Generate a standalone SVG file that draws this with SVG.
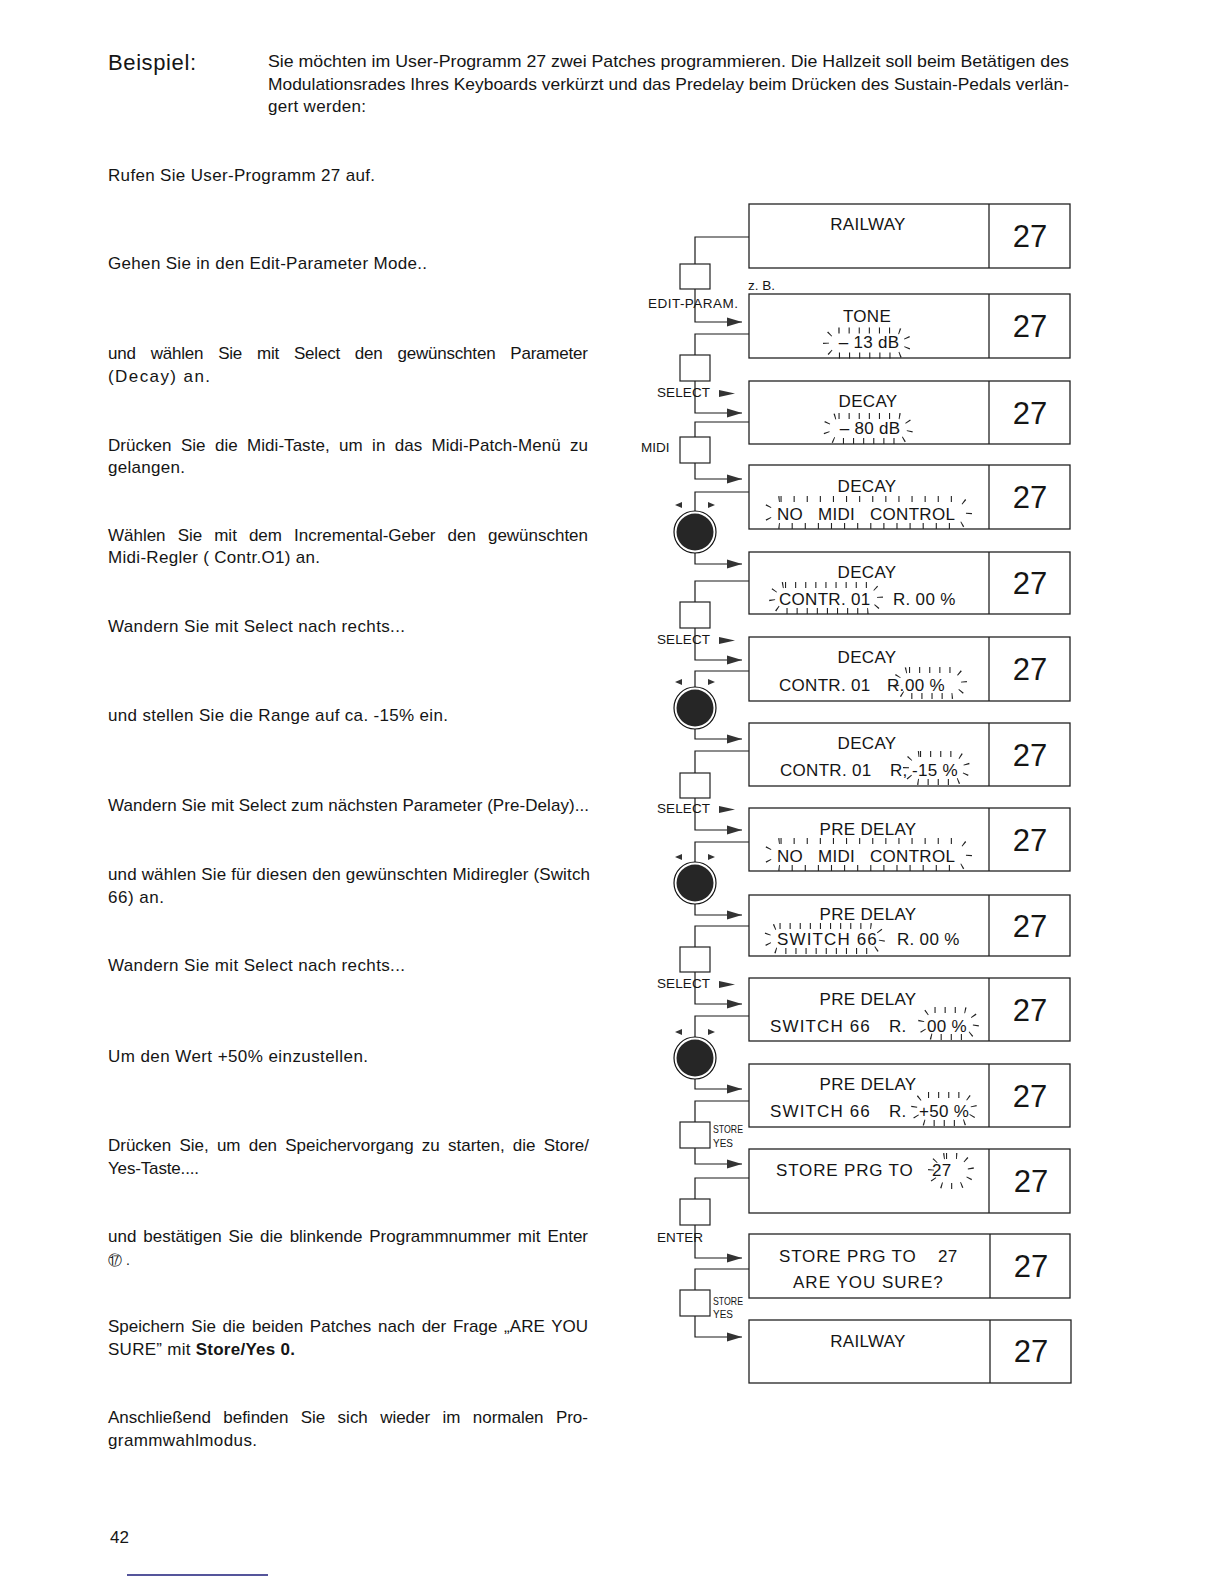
<svg xmlns="http://www.w3.org/2000/svg" width="1224" height="1584" viewBox="0 0 1224 1584">
<style>
text{font-family:"Liberation Sans",Arial,"DejaVu Sans",sans-serif;fill:#151515}
.body{font-size:17px}
.hdr{font-size:17px}
.big{font-size:22px}
.lcd{font-size:17px;letter-spacing:0.3px}
.num{font-size:31px;text-anchor:middle}
.mid{text-anchor:middle}
.lbl{font-size:13.5px}
.small{font-size:11px}
.box{fill:#fff;stroke:#222;stroke-width:1.3}
.div{stroke:#222;stroke-width:1.3}
.btn{fill:#fff;stroke:#222;stroke-width:1.2}
.wire{fill:none;stroke:#1a1a1a;stroke-width:1.2}
.tri{fill:#333}
.kring{fill:#fff;stroke:#111;stroke-width:1.2}
.kfill{fill:#262626}
.ray{fill:none;stroke:#222;stroke-width:6;stroke-dasharray:1.1 9}
.rayw{stroke-dasharray:1.1 12}
</style>
<defs>
<marker id="ah" viewBox="0 0 15 10" refX="15" refY="5" markerWidth="15" markerHeight="10" markerUnits="userSpaceOnUse" orient="auto">
<path d="M0,0.5 L15,5 L0,9.5 Z" fill="#333"/>
</marker>
</defs>
<rect width="1224" height="1584" fill="#fff"/>

<g id="header">
<text class="big" x="108" y="70" textLength="88">Beispiel:</text>
<text class="hdr" x="268" y="67" textLength="801" lengthAdjust="spacingAndGlyphs">Sie möchten im User-Programm 27 zwei Patches programmieren. Die Hallzeit soll beim Betätigen des</text>
<text class="hdr" x="268" y="90" textLength="801" lengthAdjust="spacingAndGlyphs">Modulationsrades Ihres Keyboards verkürzt und das Predelay beim Drücken des Sustain-Pedals verlän-</text>
<text class="hdr" x="268" y="112" textLength="98">gert werden:</text>
</g>

<g id="instructions">
<text class="body" x="108" y="181" textLength="267">Rufen Sie User-Programm 27 auf.</text>
<text class="body" x="108" y="269" textLength="319">Gehen Sie in den Edit-Parameter Mode..</text>
<text class="body" x="108" y="359" word-spacing="10.4" textLength="480">und wählen Sie mit Select den gewünschten Parameter</text>
<text class="body" x="108" y="382" textLength="102">(Decay) an.</text>
<text class="body" x="108" y="451" word-spacing="4.6" textLength="480">Drücken Sie die Midi-Taste, um in das Midi-Patch-Menü zu</text>
<text class="body" x="108" y="473" textLength="77">gelangen.</text>
<text class="body" x="108" y="541" word-spacing="7.4" textLength="480">Wählen Sie mit dem Incremental-Geber den gewünschten</text>
<text class="body" x="108" y="563" textLength="212">Midi-Regler ( Contr.O1) an.</text>
<text class="body" x="108" y="632" textLength="297">Wandern Sie mit Select nach rechts...</text>
<text class="body" x="108" y="721" textLength="340">und stellen Sie die Range auf ca. -15% ein.</text>
<text class="body" x="108" y="811" textLength="481">Wandern Sie mit Select zum nächsten Parameter (Pre-Delay)...</text>
<text class="body" x="108" y="880" textLength="482">und wählen Sie für diesen den gewünschten Midiregler (Switch</text>
<text class="body" x="108" y="903" textLength="56">66) an.</text>
<text class="body" x="108" y="971" textLength="297">Wandern Sie mit Select nach rechts...</text>
<text class="body" x="108" y="1062" textLength="260">Um den Wert +50% einzustellen.</text>
<text class="body" x="108" y="1151" word-spacing="3.5" textLength="481">Drücken Sie, um den Speichervorgang zu starten, die Store/</text>
<text class="body" x="108" y="1174" textLength="91">Yes-Taste....</text>
<text class="body" x="108" y="1242" word-spacing="2.2" textLength="480">und bestätigen Sie die blinkende Programmnummer mit Enter</text>
<text x="108" y="1265" style="font-size:14px">⑰ .</text>
<text class="body" x="108" y="1332" word-spacing="2" textLength="480">Speichern Sie die beiden Patches nach der Frage „ARE YOU</text>
<text class="body" x="108" y="1355" textLength="187">SURE” mit <tspan font-weight="bold">Store/Yes 0.</tspan></text>
<text class="body" x="108" y="1423" word-spacing="7.6" textLength="480">Anschließend befinden Sie sich wieder im normalen Pro-</text>
<text class="body" x="108" y="1446" textLength="149">grammwahlmodus.</text>
<text class="body" x="110" y="1543">42</text>
</g>
<line x1="127" y1="1575" x2="268" y2="1575" stroke="#1c1c7a" stroke-width="1.5"/>

<g id="connectors">
<path class="wire" d="M749,237 H695 V264"/>
<path class="wire" d="M695,289 V322 H742" marker-end="url(#ah)"/>
<path class="wire" d="M749,334 H695 V355"/>
<path class="wire" d="M695,381 V413 H742" marker-end="url(#ah)"/>
<path class="wire" d="M749,422 H695 V437"/>
<path class="wire" d="M695,463 V479 H742" marker-end="url(#ah)"/>
<path class="wire" d="M749,492 H695 V511"/>
<path class="wire" d="M695,553 V564 H742" marker-end="url(#ah)"/>
<path class="wire" d="M749,581 H695 V602"/>
<path class="wire" d="M695,628 V660 H742" marker-end="url(#ah)"/>
<path class="wire" d="M749,671 H695 V687"/>
<path class="wire" d="M695,729 V739 H742" marker-end="url(#ah)"/>
<path class="wire" d="M749,751 H695 V773"/>
<path class="wire" d="M695,798 V830 H742" marker-end="url(#ah)"/>
<path class="wire" d="M749,842 H695 V862"/>
<path class="wire" d="M695,904 V915 H742" marker-end="url(#ah)"/>
<path class="wire" d="M749,926 H695 V947"/>
<path class="wire" d="M695,972 V1004 H742" marker-end="url(#ah)"/>
<path class="wire" d="M749,1016 H695 V1037"/>
<path class="wire" d="M695,1079 V1089 H742" marker-end="url(#ah)"/>
<path class="wire" d="M749,1101 H695 V1122"/>
<path class="wire" d="M695,1148 V1164 H742" marker-end="url(#ah)"/>
<path class="wire" d="M749,1178 H695 V1199"/>
<path class="wire" d="M695,1225 V1258 H742" marker-end="url(#ah)"/>
<path class="wire" d="M749,1269 H695 V1290"/>
<path class="wire" d="M695,1316 V1337 H742" marker-end="url(#ah)"/>
</g>

<g id="btn-edit">
<rect class="btn" x="680" y="264" width="30" height="25"/>
<text class="lbl" x="648" y="308" textLength="90">EDIT-PARAM.</text>
<text class="lbl" x="748" y="290">z. B.</text>
</g>
<g id="btn-select-1">
<rect class="btn" x="680" y="355" width="30" height="26"/>
<text class="lbl" x="657" y="397" textLength="53">SELECT</text>
<polygon class="tri" points="719,390 735,393.5 719,397"/>
</g>
<g id="btn-midi">
<rect class="btn" x="680" y="437" width="30" height="26"/>
<text class="lbl" x="641" y="452">MIDI</text>
</g>
<g id="knob-1">
<polygon class="tri" points="675,505 682,502 682,508"/>
<polygon class="tri" points="715,505 708,502 708,508"/>
<circle class="kring" cx="695" cy="532" r="21"/>
<circle class="kfill" cx="695" cy="532" r="18.5"/>
</g>
<g id="btn-select-2">
<rect class="btn" x="680" y="602" width="30" height="26"/>
<text class="lbl" x="657" y="644" textLength="53">SELECT</text>
<polygon class="tri" points="719,637 735,640.5 719,644"/>
</g>
<g id="knob-2">
<polygon class="tri" points="675,682 682,679 682,685"/>
<polygon class="tri" points="715,682 708,679 708,685"/>
<circle class="kring" cx="695" cy="708" r="21"/>
<circle class="kfill" cx="695" cy="708" r="18.5"/>
</g>
<g id="btn-select-3">
<rect class="btn" x="680" y="773" width="30" height="25"/>
<text class="lbl" x="657" y="813" textLength="53">SELECT</text>
<polygon class="tri" points="719,806 735,809.5 719,813"/>
</g>
<g id="knob-3">
<polygon class="tri" points="675,857 682,854 682,860"/>
<polygon class="tri" points="715,857 708,854 708,860"/>
<circle class="kring" cx="695" cy="883" r="21"/>
<circle class="kfill" cx="695" cy="883" r="18.5"/>
</g>
<g id="btn-select-4">
<rect class="btn" x="680" y="947" width="30" height="25"/>
<text class="lbl" x="657" y="988" textLength="53">SELECT</text>
<polygon class="tri" points="719,981 735,984.5 719,988"/>
</g>
<g id="knob-4">
<polygon class="tri" points="675,1032 682,1029 682,1035"/>
<polygon class="tri" points="715,1032 708,1029 708,1035"/>
<circle class="kring" cx="695" cy="1058" r="21"/>
<circle class="kfill" cx="695" cy="1058" r="18.5"/>
</g>
<g id="btn-store-1">
<rect class="btn" x="680" y="1122" width="30" height="26"/>
<text class="small" x="713" y="1133" textLength="30" lengthAdjust="spacingAndGlyphs">STORE</text>
<text class="small" x="713" y="1147" textLength="20" lengthAdjust="spacingAndGlyphs">YES</text>
</g>
<g id="btn-enter">
<rect class="btn" x="680" y="1199" width="30" height="26"/>
<text class="lbl" x="657" y="1242" textLength="46">ENTER</text>
</g>
<g id="btn-store-2">
<rect class="btn" x="680" y="1290" width="30" height="26"/>
<text class="small" x="713" y="1305" textLength="30" lengthAdjust="spacingAndGlyphs">STORE</text>
<text class="small" x="713" y="1318" textLength="20" lengthAdjust="spacingAndGlyphs">YES</text>
</g>

<g id="display-1">
<rect class="box" x="749" y="204" width="321" height="64"/>
<line class="div" x1="989" y1="204" x2="989" y2="268"/>
<text class="lcd mid" x="868" y="230">RAILWAY</text>
<text class="num" x="1030" y="247">27</text>
</g>
<g id="display-2">
<rect class="box" x="749" y="294" width="321" height="64"/>
<line class="div" x1="989" y1="294" x2="989" y2="358"/>
<text class="lcd mid" x="867" y="322">TONE</text>
<text class="lcd mid" x="869" y="348">– 13 dB</text>
<rect class="ray" x="826" y="330.5" width="82" height="25" rx="12.5"/>
<text class="num" x="1030" y="337">27</text>
</g>
<g id="display-3">
<rect class="box" x="749" y="381" width="321" height="63"/>
<line class="div" x1="989" y1="381" x2="989" y2="444"/>
<text class="lcd mid" x="868" y="407">DECAY</text>
<text class="lcd mid" x="870" y="434">– 80 dB</text>
<rect class="ray" x="826" y="416" width="84" height="25" rx="12.5"/>
<text class="num" x="1030" y="424">27</text>
</g>
<g id="display-4">
<rect class="box" x="749" y="465" width="321" height="64"/>
<line class="div" x1="989" y1="465" x2="989" y2="529"/>
<text class="lcd mid" x="867" y="492">DECAY</text>
<text class="lcd" y="520"><tspan x="777">NO</tspan><tspan x="818">MIDI</tspan><tspan x="870">CONTROL</tspan></text>
<rect class="ray rayw" x="767" y="499" width="202" height="27" rx="13.5"/>
<text class="num" x="1030" y="508">27</text>
</g>
<g id="display-5">
<rect class="box" x="749" y="552" width="321" height="62"/>
<line class="div" x1="989" y1="552" x2="989" y2="614"/>
<text class="lcd mid" x="867" y="578">DECAY</text>
<text class="lcd" x="779" y="605">CONTR. 01</text>
<text class="lcd" x="893" y="605">R. 00 %</text>
<rect class="ray" x="772" y="585" width="108" height="26" rx="13"/>
<text class="num" x="1030" y="594">27</text>
</g>
<g id="display-6">
<rect class="box" x="749" y="637" width="321" height="64"/>
<line class="div" x1="989" y1="637" x2="989" y2="701"/>
<text class="lcd mid" x="867" y="663">DECAY</text>
<text class="lcd" x="779" y="691">CONTR. 01</text>
<text class="lcd" x="887" y="691">R.</text>
<text class="lcd" x="905" y="691">00 %</text>
<rect class="ray" x="896" y="670" width="68" height="26" rx="13"/>
<text class="num" x="1030" y="680">27</text>
</g>
<g id="display-7">
<rect class="box" x="749" y="723" width="321" height="63"/>
<line class="div" x1="989" y1="723" x2="989" y2="786"/>
<text class="lcd mid" x="867" y="749">DECAY</text>
<text class="lcd" x="780" y="776">CONTR. 01</text>
<text class="lcd" x="890" y="776">R,</text>
<text class="lcd" x="912" y="776">-15 %</text>
<rect class="ray" x="906" y="754" width="61" height="28" rx="14"/>
<text class="num" x="1030" y="766">27</text>
</g>
<g id="display-8">
<rect class="box" x="749" y="808" width="321" height="63"/>
<line class="div" x1="989" y1="808" x2="989" y2="871"/>
<text class="lcd mid" x="868" y="835">PRE DELAY</text>
<text class="lcd" y="862"><tspan x="777">NO</tspan><tspan x="818">MIDI</tspan><tspan x="870">CONTROL</tspan></text>
<rect class="ray rayw" x="767" y="841" width="202" height="27" rx="13.5"/>
<text class="num" x="1030" y="851">27</text>
</g>
<g id="display-9">
<rect class="box" x="749" y="895" width="321" height="61"/>
<line class="div" x1="989" y1="895" x2="989" y2="956"/>
<text class="lcd mid" x="868" y="920">PRE DELAY</text>
<text class="lcd" x="777" y="945" textLength="100">SWITCH 66</text>
<text class="lcd" x="897" y="945">R. 00 %</text>
<rect class="ray" x="767" y="926" width="115" height="25" rx="12.5"/>
<text class="num" x="1030" y="937">27</text>
</g>
<g id="display-10">
<rect class="box" x="749" y="978" width="321" height="63"/>
<line class="div" x1="989" y1="978" x2="989" y2="1041"/>
<text class="lcd mid" x="868" y="1005">PRE DELAY</text>
<text class="lcd" x="770" y="1032" textLength="100">SWITCH 66</text>
<text class="lcd" x="889" y="1032">R.</text>
<text class="lcd" x="927" y="1032">00 %</text>
<rect class="ray" x="921" y="1010" width="55" height="27" rx="13.5"/>
<text class="num" x="1030" y="1021">27</text>
</g>
<g id="display-11">
<rect class="box" x="749" y="1064" width="321" height="63"/>
<line class="div" x1="989" y1="1064" x2="989" y2="1127"/>
<text class="lcd mid" x="868" y="1090">PRE DELAY</text>
<text class="lcd" x="770" y="1117" textLength="100">SWITCH 66</text>
<text class="lcd" x="889" y="1117">R.</text>
<text class="lcd" x="919" y="1117">+50 %</text>
<rect class="ray" x="914" y="1095" width="60" height="28" rx="14"/>
<text class="num" x="1030" y="1107">27</text>
</g>
<g id="display-12">
<rect class="box" x="749" y="1149" width="321" height="64"/>
<line class="div" x1="989" y1="1149" x2="989" y2="1213"/>
<text class="lcd" x="776" y="1176" textLength="137">STORE PRG TO</text>
<text class="lcd" x="932" y="1176">27</text>
<rect class="ray" x="931" y="1156" width="40" height="30" rx="15"/>
<text class="num" x="1031" y="1192">27</text>
</g>
<g id="display-13">
<rect class="box" x="749" y="1234" width="321" height="64"/>
<line class="div" x1="990" y1="1234" x2="990" y2="1298"/>
<text class="lcd" x="779" y="1262" textLength="137">STORE PRG TO</text>
<text class="lcd" x="938" y="1262">27</text>
<text class="lcd mid" x="868" y="1288" textLength="150">ARE YOU SURE?</text>
<text class="num" x="1031" y="1277">27</text>
</g>
<g id="display-14">
<rect class="box" x="749" y="1320" width="322" height="63"/>
<line class="div" x1="990" y1="1320" x2="990" y2="1383"/>
<text class="lcd mid" x="868" y="1347">RAILWAY</text>
<text class="num" x="1031" y="1362">27</text>
</g>
</svg>
